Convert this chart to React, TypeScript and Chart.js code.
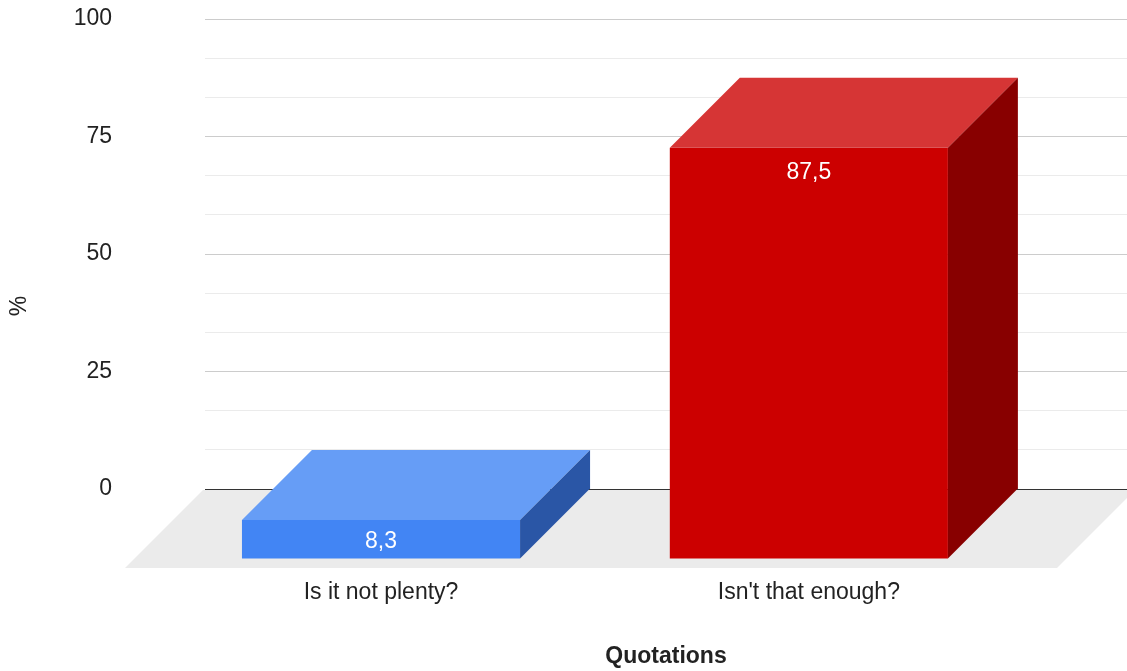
import { useEffect, useRef } from "react";
import { Chart, registerables } from "chart.js";

Chart.register(...registerables);

// Categories and their shares (%)
const categories = ["Is it not plenty?", "Isn't that enough?"];
const percentages = [8.3, 87.5];

// Face colours per bar: front, top, right side
const frontColors = ["#4285f4", "#cc0000"];
const topColors = ["#669df6", "#d63535"];
const sideColors = ["#2a56a6", "#880000"];

// Labelled y ticks (minor gridlines fall between them)
const yLabelValues = [0, 25, 50, 75, 100];

const yTitle = "%";
const xTitle = "Quotations";

const DEPTH = 70; // bar extrusion, drawn at 45°
const FLOOR = 78; // depth of the grey floor
const FONT = '"Liberation Sans", Arial, sans-serif';
const TEXT = "#222222";

const formatValue = (v: number) => v.toFixed(1).replace(".", ",");

const bars3d = {
  id: "bars3d",
  beforeDatasetsDraw(chart: any) {
    const { ctx, chartArea } = chart;
    const y0 = chart.scales.y.getPixelForValue(0);
    ctx.save();
    ctx.fillStyle = "#ebebeb";
    ctx.beginPath();
    ctx.moveTo(chartArea.left - 2, y0 + 1);
    ctx.lineTo(chartArea.right + 8, y0 + 1);
    ctx.lineTo(chartArea.right + 8 - FLOOR, y0 + 1 + FLOOR);
    ctx.lineTo(chartArea.left - 2 - FLOOR, y0 + 1 + FLOOR);
    ctx.closePath();
    ctx.fill();
    ctx.restore();
  },
  beforeDatasetDraw(chart: any) {
    // front faces are drawn shifted towards the viewer
    chart.ctx.save();
    chart.ctx.translate(-DEPTH, DEPTH);
  },
  afterDatasetDraw(chart: any, args: any) {
    const { ctx } = chart;
    ctx.restore();
    args.meta.data.forEach((el: any, i: number) => {
      const { x, y, base, width } = el.getProps(["x", "y", "base", "width"], true);
      const l = x - width / 2;
      const r = x + width / 2;
      ctx.save();
      // top face
      ctx.fillStyle = topColors[i];
      ctx.beginPath();
      ctx.moveTo(l - DEPTH, y + DEPTH);
      ctx.lineTo(r - DEPTH, y + DEPTH);
      ctx.lineTo(r, y);
      ctx.lineTo(l, y);
      ctx.closePath();
      ctx.fill();
      // right side face
      ctx.fillStyle = sideColors[i];
      ctx.beginPath();
      ctx.moveTo(r - DEPTH, y + DEPTH);
      ctx.lineTo(r, y);
      ctx.lineTo(r, base);
      ctx.lineTo(r - DEPTH, base + DEPTH);
      ctx.closePath();
      ctx.fill();
      ctx.restore();
    });
  },
  afterDatasetsDraw(chart: any) {
    const { ctx } = chart;
    const meta = chart.getDatasetMeta(0);
    ctx.save();
    ctx.fillStyle = "#ffffff";
    ctx.font = `23px ${FONT}`;
    ctx.textAlign = "center";
    ctx.textBaseline = "middle";
    meta.data.forEach((el: any, i: number) => {
      const { x, y, base } = el.getProps(["x", "y", "base"], true);
      const top = y + DEPTH;
      const bottom = base + DEPTH;
      const cy = Math.min(top + 25, (top + bottom) / 2 + 2);
      ctx.fillText(formatValue(percentages[i]), x - DEPTH, cy);
    });
    ctx.restore();
  },
  afterDraw(chart: any) {
    const { ctx } = chart;
    ctx.save();
    ctx.fillStyle = TEXT;
    ctx.font = `23px ${FONT}`;
    ctx.textAlign = "center";
    ctx.textBaseline = "middle";
    ctx.translate(20, 306);
    ctx.rotate(-Math.PI / 2);
    ctx.fillText(yTitle, 0, 0);
    ctx.restore();
  },
};

const isLabelled = (v: number) => yLabelValues.some((t) => Math.abs(t - v) < 1e-6);

export default function App() {
  const canvasRef = useRef<HTMLCanvasElement | null>(null);

  useEffect(() => {
    const canvas = canvasRef.current;
    if (!canvas) return;
    const chart = new Chart(canvas, {
      type: "bar",
      data: {
        datasets: [
          {
            data: percentages.map((v, i) => ({ x: i, y: v })),
            backgroundColor: frontColors,
            borderWidth: 0,
            categoryPercentage: 1,
            barPercentage: 0.65,
            clip: false as any,
          },
        ],
      },
      options: {
        responsive: false,
        animation: false,
        devicePixelRatio: 1,
        layout: { padding: { top: 19, right: 0, bottom: 0, left: 0 } },
        plugins: {
          legend: { display: false },
          tooltip: { enabled: false },
        },
        scales: {
          x: {
            type: "linear",
            min: -0.575,
            max: 1.58,
            offset: false,
            afterBuildTicks: (s: any) => {
              s.ticks = categories.map((_, i) => ({ value: i }));
            },
            afterFit: (s: any) => {
              s.height = 182;
              s.paddingLeft = 0;
              s.paddingRight = 0;
            },
            ticks: {
              callback: (v: any) => categories[Math.round(Number(v))] ?? "",
              labelOffset: -DEPTH,
              padding: 90,
              autoSkip: false,
              maxRotation: 0,
              color: TEXT,
              font: { family: FONT, size: 23 },
            },
            grid: { display: false, drawTicks: false },
            border: { display: false },
            title: {
              display: true,
              text: xTitle,
              color: TEXT,
              font: { family: FONT, size: 23, weight: "bold" },
              padding: { top: 0, bottom: 1 },
            },
          },
          y: {
            min: 0,
            max: 100,
            afterFit: (s: any) => {
              s.width = 205;
              // the wide label gap is horizontal only
              s.paddingTop = 0;
              s.paddingBottom = 0;
            },
            ticks: {
              count: 13,
              padding: 93,
              color: TEXT,
              font: { family: FONT, size: 23 },
              callback: (v: any) => (isLabelled(Number(v)) ? String(Math.round(Number(v))) : ""),
            },
            grid: {
              drawTicks: false,
              color: (c: any) => {
                const v = c.tick ? c.tick.value : 1;
                if (Math.abs(v) < 1e-6) return "#333333";
                return isLabelled(v) ? "#cccccc" : "#ebebeb";
              },
            },
            border: { display: false },
          },
        },
      } as any,
      plugins: [bars3d],
    });
    return () => chart.destroy();
  }, []);

  return (
    <div style={{ position: "fixed", left: 0, top: 0, width: 1127, height: 671, background: "#fff" }}>
      <canvas ref={canvasRef} width={1127} height={671} style={{ display: "block" }} />
    </div>
  );
}
